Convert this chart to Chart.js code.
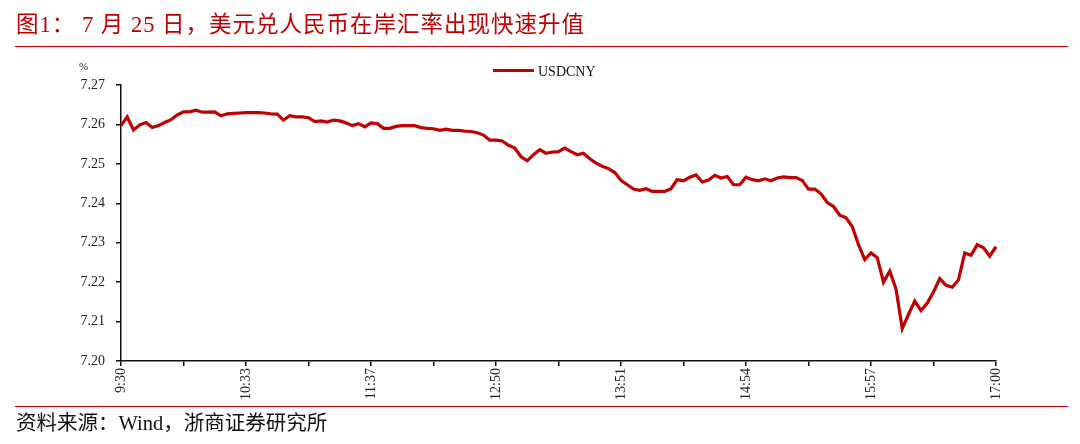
<!DOCTYPE html>
<html>
<head>
<meta charset="utf-8">
<script src="https://cdn.jsdelivr.net/npm/chart.js@4"></script>
<style>
  body { margin: 0; background: #fff; }
  #wrap { position: relative; width: 1080px; height: 444px; overflow: hidden; }
  #chart { position: absolute; left: 0; top: 0; }
  .title { position: absolute; left: 16px; top: 6px; font: 22.5px "Liberation Serif", "Noto Sans CJK SC"; color: #c00000; letter-spacing: 1px; white-space: nowrap; }
  .rule { position: absolute; left: 15px; width: 1053px; height: 0; border-top: 1.5px solid #d40000; }
  .unit { position: absolute; left: 79px; top: 60px; font: 11px "Liberation Serif"; color: #222; }
  .legend { position: absolute; left: 493px; top: 64px; font: 14px "Liberation Serif"; color: #111; white-space: nowrap; }
  .legend span { display: inline-block; width: 41px; height: 3px; background: #c00000; vertical-align: middle; margin-right: 4px; position: relative; top: -2px; }
  .source { position: absolute; left: 16px; top: 406px; font: 20.5px "Liberation Serif", "Noto Sans CJK SC"; color: #111; white-space: nowrap; }
</style>
</head>
<body>
<div id="wrap">
  <canvas id="chart" width="1080" height="444"></canvas>
  <div class="title">图1： 7 月 25 日，美元兑人民币在岸汇率出现快速升值</div>
  <div class="rule" style="top:46px"></div>
  <div class="unit">%</div>
  <div class="legend"><span></span>USDCNY</div>
  <div class="rule" style="top:406px"></div>
  <div class="source">资料来源：Wind，浙商证券研究所</div>
</div>
<script>
// USDCNY intraday, 25 July
const tickLabels = ["9:30", "10:33", "11:37", "12:50", "13:51", "14:54", "15:57", "17:00"];
const usdcny = [
  7.2597, 7.2619, 7.2586, 7.2599, 7.2605, 7.2592, 7.2597, 7.2605, 7.2612, 7.2624,
  7.2632, 7.2632, 7.2636, 7.2631, 7.2631, 7.2632, 7.2622, 7.2627, 7.2628, 7.2629,
  7.2630, 7.2630, 7.2630, 7.2629, 7.2627, 7.2626, 7.2611, 7.2622, 7.2619, 7.2619,
  7.2617, 7.2607, 7.2609, 7.2606, 7.2611, 7.2609, 7.2604, 7.2597, 7.2602, 7.2594,
  7.2604, 7.2602, 7.2590, 7.2590, 7.2595, 7.2597, 7.2597, 7.2597, 7.2592, 7.2590,
  7.2589, 7.2585, 7.2588, 7.2585, 7.2585, 7.2583, 7.2582, 7.2579, 7.2573, 7.2560,
  7.2560, 7.2558, 7.2547, 7.2540, 7.2518, 7.2508, 7.2523, 7.2536, 7.2527, 7.2530,
  7.2531, 7.2540, 7.2531, 7.2523, 7.2527, 7.2513, 7.2502, 7.2494, 7.2488, 7.2478,
  7.2458, 7.2447, 7.2436, 7.2433, 7.2437, 7.2430, 7.2430, 7.2430, 7.2437, 7.2460,
  7.2457, 7.2466, 7.2472, 7.2454, 7.2459, 7.2471, 7.2464, 7.2468, 7.2447, 7.2447,
  7.2466, 7.2460, 7.2457, 7.2462, 7.2457, 7.2464, 7.2467, 7.2465, 7.2465, 7.2458,
  7.2436, 7.2436, 7.2424, 7.2402, 7.2392, 7.2370, 7.2363, 7.2341, 7.2295, 7.2257,
  7.2274, 7.2262, 7.2200, 7.2228, 7.2183, 7.2082, 7.2118, 7.2152, 7.2128, 7.2147,
  7.2175, 7.2209, 7.2192, 7.2187, 7.2206, 7.2274, 7.2268, 7.2295, 7.2287, 7.2266,
  7.2290
];
const yMin = 7.20, yMax = 7.27, yStep = 0.01;

const perLabel = (usdcny.length - 1) / (tickLabels.length - 1); // 20 points between labels
const categories = usdcny.map((_, i) => i);
const font = { family: "Liberation Serif", size: 14 };

new Chart(document.getElementById('chart'), {
  type: 'line',
  data: {
    labels: categories,
    datasets: [{
      label: 'USDCNY',
      data: usdcny,
      borderColor: '#c00000',
      borderWidth: 3.2,
      pointRadius: 0,
      tension: 0,
      fill: false
    }]
  },
  options: {
    responsive: false,
    animation: false,
    layout: { padding: { top: 85, right: 84, left: 0, bottom: 0 } },
    plugins: { legend: { display: false }, tooltip: { enabled: false } },
    scales: {
      x: {
        type: 'category',
        offset: false,
        afterFit: s => { s.height = 83; },
        border: { color: '#111', width: 1.5 },
        grid: {
          drawOnChartArea: false,
          tickLength: 5,
          lineWidth: 1.5,
          color: c => (c.index % (perLabel / 2) === 0 ? '#111' : 'rgba(0,0,0,0)')
        },
        ticks: {
          autoSkip: false,
          maxRotation: 90,
          minRotation: 90,
          padding: 2,
          color: '#222',
          font: font,
          callback: (v, i) => (i % perLabel === 0 ? tickLabels[i / perLabel] : '')
        }
      },
      y: {
        min: yMin,
        max: yMax,
        afterFit: s => { s.width = 121; },
        border: { color: '#111', width: 1.5 },
        grid: { drawOnChartArea: false, tickLength: 5, lineWidth: 1.5, color: '#111' },
        ticks: {
          stepSize: yStep,
          padding: 11,
          color: '#222',
          font: font,
          callback: v => v.toFixed(2)
        }
      }
    }
  }
});
</script>
</body>
</html>
